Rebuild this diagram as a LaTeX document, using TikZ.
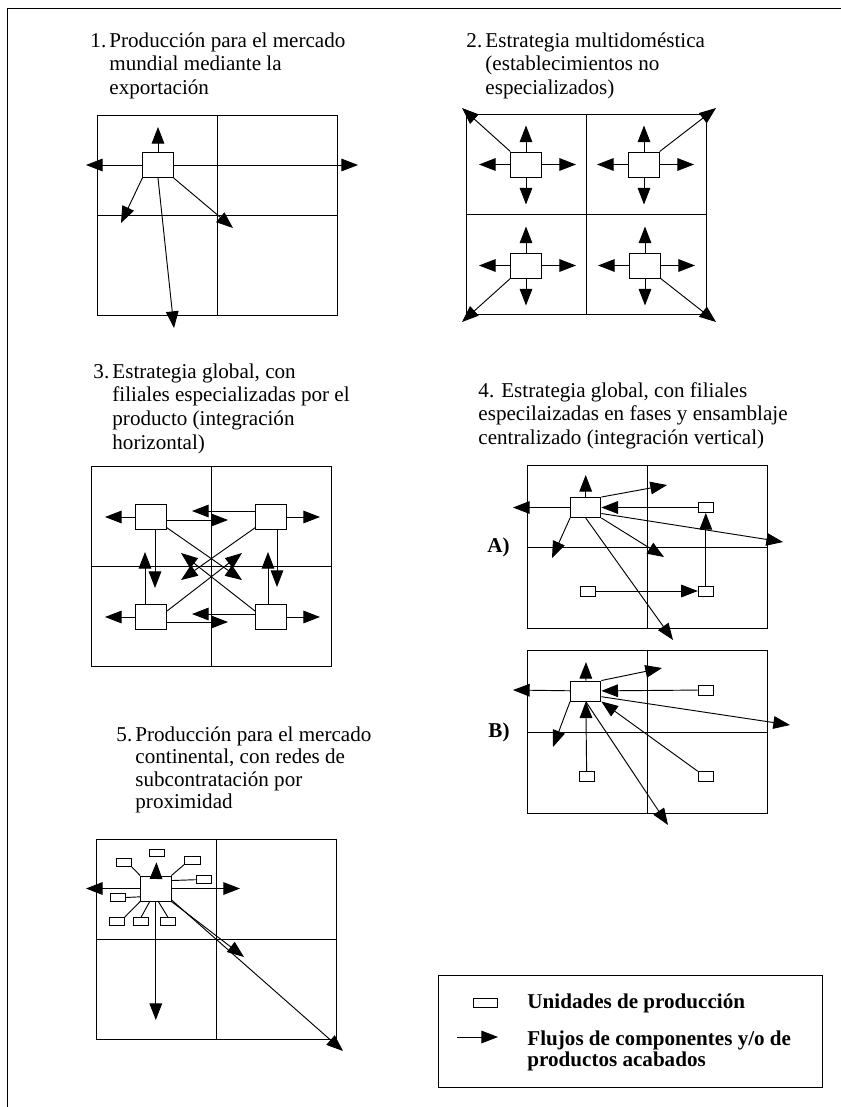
\documentclass[tikz,border=0pt]{standalone}
\usepackage{fontspec}
\setmainfont{Liberation Serif}
\usetikzlibrary{arrows.meta}

\begin{document}
\begin{tikzpicture}[
    x=0.3mm, y=-0.3mm,
    line width=0.8pt,
    mapa/.style={rectangle,draw,inner sep=0,minimum width=72mm,minimum height=60mm},
    mapa4/.style={mapa,minimum height=49mm},
    unidad/.style={rectangle,draw,fill=white,inner sep=0,minimum width=9.1mm,minimum height=7.5mm},
    central/.style={unidad,minimum height=6mm},
    filial/.style={rectangle,draw,fill=white,inner sep=0,minimum width=4.5mm,minimum height=3mm},
    subcontrata/.style={filial,minimum width=4.6mm,minimum height=2.3mm},
    titulo/.style={inner sep=0,anchor=base west,font=\fontsize{18}{20.3}\selectfont},
    etiqueta/.style={inner sep=0,anchor=base east,font=\fontsize{18}{20}\selectfont\bfseries},
    leyenda/.style={rectangle,draw,inner sep=0,minimum width=115.2mm,minimum height=33.6mm},
    leytexto/.style={inner sep=0,anchor=base west,font=\fontsize{18}{18.7}\selectfont\bfseries},
    flujo/.style={-{Triangle[length=5mm,width=3.8mm]}}
]
\useasboundingbox (0,0) rectangle (840,1107);

% Marco
\draw (7,1110) -- (7,8) -- (845,8);

% 1. Produccion mundial
\node[titulo] (t1) at (90,47) {\begin{tabular}[t]{@{}l@{\hspace{.15em}}l@{}}1. & Producción para el mercado\\ & mundial mediante la\\ & exportación\end{tabular}};
\node[mapa] (m1) at (217.5,215.3) {};
\draw (m1.north) -- (m1.south);
\draw (m1.west) -- (m1.east);
\node[unidad] (u1) at (158,165) {};
\coordinate (u1-n) at (158,127);
\coordinate (u1-o) at (86,165);
\coordinate (u1-e) at (358,165);
\coordinate (u1-so) at (121,223);
\coordinate (u1-se) at (233,228);
\coordinate (u1-s) at (174,328);
\draw[flujo] (u1) -- (u1-n);
\draw[flujo] (u1) -- (u1-o);
\draw[flujo] (u1) -- (u1-e);
\draw[flujo] (u1.south west) -- (u1-so);
\draw[flujo] (u1.south east) -- (u1-se);
\draw[flujo] (u1.south) -- (u1-s);

% 2. Multidomestica
\node[titulo] (t2) at (466,47) {\begin{tabular}[t]{@{}l@{\hspace{.15em}}l@{}}2. & Estrategia multidoméstica\\ & (establecimientos no\\ & especializados)\end{tabular}};
\node[mapa] (m2) at (586.5,214.5) {};
\draw (m2.north) -- (m2.south);
\draw (m2.west) -- (m2.east);
\foreach \unid/\cx/\cy in {u2a/526/164.5, u2b/644/164.5, u2c/526/265.5, u2d/645/265.5} {
    \node[unidad] (\unid) at (\cx,\cy) {};
    \coordinate (\unid-n) at (\cx,\cy-39);
    \coordinate (\unid-s) at (\cx,\cy+40);
    \coordinate (\unid-o) at (\cx-47,\cy);
    \coordinate (\unid-e) at (\cx+50,\cy);
    \draw[flujo] (\unid) -- (\unid-n);
    \draw[flujo] (\unid) -- (\unid-s);
    \draw[flujo] (\unid) -- (\unid-o);
    \draw[flujo] (\unid) -- (\unid-e);
}
\coordinate (c2a) at (462,108);
\coordinate (c2b) at (716,108);
\coordinate (c2c) at (462,322);
\coordinate (c2d) at (716,322);
\draw[flujo] (u2a.north west) -- (c2a);
\draw[flujo] (u2b.north east) -- (c2b);
\draw[flujo] (u2c.south west) -- (c2c);
\draw[flujo] (u2d.south east) -- (c2d);

% 3. Global horizontal
\node[titulo] (t3) at (93,378) {\begin{tabular}[t]{@{}l@{\hspace{.15em}}l@{}}3. & Estrategia global, con\\ & filiales especializadas por el\\ & producto (integración\\ & horizontal)\end{tabular}};
\node[mapa] (m3) at (211.2,566.7) {};
\draw (m3.north) -- (m3.south);
\draw (m3.west) -- (m3.east);
\node[unidad] (u3a) at (151,517) {};
\node[unidad] (u3b) at (271,517) {};
\node[unidad] (u3c) at (151,617) {};
\node[unidad] (u3d) at (271,617) {};
\coordinate (u3a-o) at (105,517);
\coordinate (u3c-o) at (105,617);
\coordinate (u3b-e) at (320,517);
\coordinate (u3d-e) at (320,617);
\coordinate (u3a-e) at (228,520);
\coordinate (u3b-o) at (192,511);
\coordinate (u3c-e) at (228,622);
\coordinate (u3d-o) at (192,614);
\coordinate (u3a-s) at (155,588);
\coordinate (u3c-n) at (145,552);
\coordinate (u3b-s) at (277,587);
\coordinate (u3d-n) at (268,552);
\coordinate (x3a) at (242,580);
\coordinate (x3b) at (181,580);
\coordinate (x3c) at (242,553);
\coordinate (x3d) at (181,553);
\draw[flujo] (u3a) -- (u3a-o);
\draw[flujo] (u3c) -- (u3c-o);
\draw[flujo] (u3b) -- (u3b-e);
\draw[flujo] (u3d) -- (u3d-e);
\draw[flujo] (u3a-e -| u3a.east) -- (u3a-e);
\draw[flujo] (u3b-o -| u3b.west) -- (u3b-o);
\draw[flujo] (u3c-e -| u3c.east) -- (u3c-e);
\draw[flujo] (u3d-o -| u3d.west) -- (u3d-o);
\draw[flujo] (u3a-s |- u3a.south) -- (u3a-s);
\draw[flujo] (u3c-n |- u3c.north) -- (u3c-n);
\draw[flujo] (u3b-s |- u3b.south) -- (u3b-s);
\draw[flujo] (u3d-n |- u3d.north) -- (u3d-n);
\draw[flujo] (u3a.-34) -- (x3a);
\draw[flujo] (u3b.214) -- (x3b);
\draw[flujo] (u3c.20) -- (x3c);
\draw[flujo] (u3d.160) -- (x3d);

% 4. Global vertical
\node[titulo] (t4) at (478,397) {\begin{tabular}[t]{@{}l@{}}4. Estrategia global, con filiales\\especilaizadas en fases y ensamblaje\\centralizado (integración vertical)\end{tabular}};

% A)
\node[etiqueta] (la) at (510,552) {A)};
\node[mapa4] (m4a) at (647.8,547) {};
\draw (m4a.north) -- (m4a.south);
\draw (m4a.west) -- (m4a.east);
\node[central] (ua) at (585.7,507.5) {};
\node[filial] (ub) at (705.8,507.5) {};
\node[filial] (uc) at (587.5,591) {};
\node[filial] (ud) at (705.8,591) {};
\coordinate (ua-n) at (585.7,475);
\coordinate (ua-o) at (513,507.5);
\coordinate (ua-ne) at (667,485);
\coordinate (ua-e) at (783,542);
\coordinate (ua-so) at (552,558);
\coordinate (ua-se) at (664,557);
\coordinate (ua-s) at (673,640);
\draw[flujo] (ua) -- (ua-n);
\draw[flujo] (ua) -- (ua-o);
\draw[flujo] (ua.north east) -- (ua-ne);
\draw[flujo] (ua.-21) -- (ua-e);
\draw[flujo] (ua.south west) -- (ua-so);
\draw[flujo] (ua.south east) -- (ua-se);
\draw[flujo] (ua.south) -- (ua-s);
\draw[flujo] (ub) -- (ua);
\draw[flujo] (ud) -- (ub);
\draw[flujo] (uc) -- (ud);

% B)
\node[etiqueta] (lb) at (510,737) {B)};
\node[mapa4] (m4b) at (647.8,732) {};
\draw (m4b.north) -- (m4b.south);
\draw (m4b.west) -- (m4b.east);
\node[central] (va) at (585.7,691) {};
\node[filial] (vb) at (705.7,690) {};
\node[filial] (vc) at (586.7,776.7) {};
\node[filial] (vd) at (705.7,776.7) {};
\coordinate (va-n) at (586,662);
\coordinate (va-o) at (513,690);
\coordinate (va-ne) at (662,668);
\coordinate (va-e) at (790,725);
\coordinate (va-so) at (553,747);
\coordinate (va-s) at (668,825);
\draw[flujo] (va) -- (va-n);
\draw[flujo] (va) -- (va-o);
\draw[flujo] (va.north east) -- (va-ne);
\draw[flujo] (va.-20) -- (va-e);
\draw[flujo] (va.south west) -- (va-so);
\draw[flujo] (va.south) -- (va-s);
\draw[flujo] (vb) -- (va);
\draw[flujo] (vc) -- (va);
\draw[flujo] (vd.north west) -- (va.south east);

% 5. Produccion continental
\node[titulo,font=\fontsize{18}{19.3}\selectfont] (t5) at (116,741) {\begin{tabular}[t]{@{}l@{\hspace{.15em}}l@{}}5. & Producción para el mercado\\ & continental, con redes de\\ & subcontratación por\\ & proximidad\end{tabular}};
\node[mapa] (m5) at (216,939.3) {};
\draw (m5.north) -- (m5.south);
\draw (m5.west) -- (m5.east);
\node[unidad] (w0) at (155.8,888.5) {};
\node[subcontrata] (wa) at (156.7,853) {};
\node[subcontrata] (wb) at (123.7,862.7) {};
\node[subcontrata] (wc) at (192.3,860.3) {};
\node[subcontrata] (wd) at (203.7,879.7) {};
\node[subcontrata] (we) at (117.7,897.5) {};
\node[subcontrata] (wf) at (116.7,921.3) {};
\node[subcontrata] (wg) at (141.2,921.3) {};
\node[subcontrata] (wh) at (167.8,921.3) {};
\draw (w0.north west) -- (wb.south east);
\draw (w0.north east) -- (wc.south west);
\draw (w0.27) -- (wd.west);
\draw (we.east) -- (w0.208);
\draw (w0.south west) -- (wf.north east);
\draw (w0.-115) -- (wg.north);
\draw (w0.-79) -- (wh.north);
\coordinate (w0-o) at (86,888.5);
\coordinate (w0-e) at (240,888.5);
\coordinate (w0-se) at (244,957);
\coordinate (w0-lej) at (343,1051);
\coordinate (w0-s) at (155.8,1020);
\draw[flujo,shorten >=1.5mm] (w0) -- (wa);
\draw[flujo] (w0) -- (w0-o);
\draw[flujo] (w0) -- (w0-e);
\draw[flujo] (w0.south east) -- (w0-se);
\draw[flujo] (w0.-36) -- (w0-lej);
\draw[flujo] (w0.south) -- (w0-s);

% Leyenda
\node[leyenda] (ley) at (630,1031) {};
\node[filial,minimum width=7.2mm,minimum height=2.7mm] (ic) at (485,1003) {};
\node[leytexto] (lt1) at (527,1008) {Unidades de producción};
\coordinate (fa) at (457,1037);
\coordinate (fb) at (498,1037);
\draw[flujo] (fa) -- (fb);
\node[leytexto] (lt2) at (527,1045) {\begin{tabular}[t]{@{}l@{}}Flujos de componentes y/o de\\productos acabados\end{tabular}};

\end{tikzpicture}
\end{document}
